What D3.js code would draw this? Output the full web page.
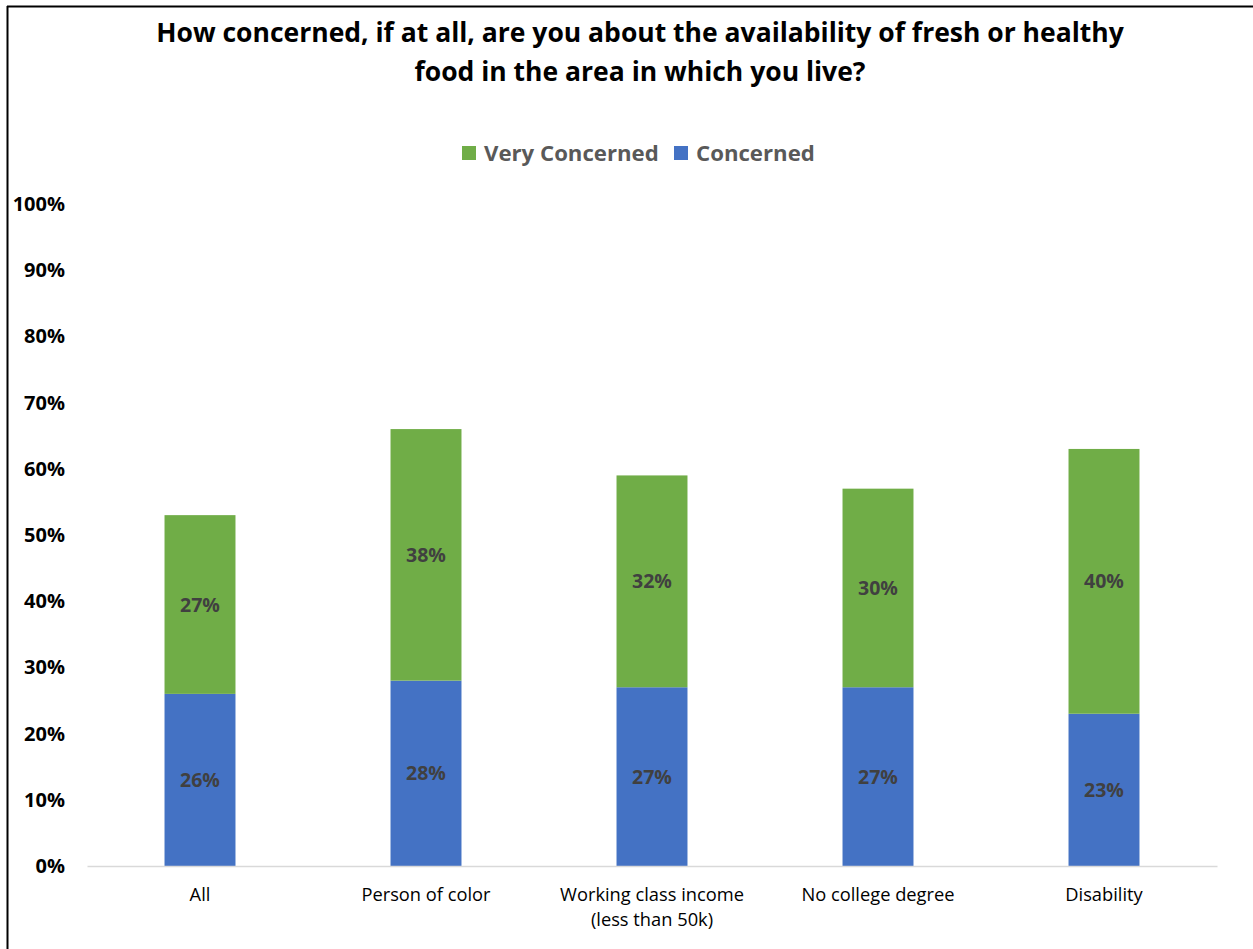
<!DOCTYPE html>
<html><head><meta charset="utf-8">
<script src="https://cdn.jsdelivr.net/npm/d3@7"></script>
<style>body{margin:0;background:#fff;} svg{display:block;}</style>
</head><body>
<script>
const categories = ["All", "Person of color", "Working class income\n(less than 50k)", "No college degree", "Disability"];
const concerned = [26, 28, 27, 27, 23];
const veryConcerned = [27, 38, 32, 30, 40];
const yTicks = [0, 10, 20, 30, 40, 50, 60, 70, 80, 90, 100];
const seriesNames = ["Very Concerned", "Concerned"];
const colors = {"Concerned": "#4472c4", "Very Concerned": "#70ad47"};
const titleLines = ["How concerned, if at all, are you about the availability of fresh or healthy", "food in the area in which you live?"];

const W = 1253, H = 949;
const font = "'Open Sans', sans-serif";
const svg = d3.select("body").append("svg").attr("width", W).attr("height", H);
svg.append("rect").attr("width", W).attr("height", H).attr("fill", "#fff");
svg.append("line").attr("x1", 7).attr("x2", W).attr("y1", 6.5).attr("y2", 6.5).attr("stroke", "#000").attr("stroke-width", 2);
svg.append("line").attr("x1", 7.5).attr("x2", 7.5).attr("y1", 6).attr("y2", H).attr("stroke", "#000").attr("stroke-width", 2);

svg.append("text").attr("x", 640).attr("y", 42).attr("text-anchor", "middle")
  .attr("font-family", font).attr("font-weight", "bold").attr("font-size", 26.5).attr("fill", "#000")
  .selectAll("tspan").data(titleLines).join("tspan")
  .attr("x", 640).attr("dy", (d, i) => i === 0 ? 0 : 39).text(d => d);

const x = d3.scaleBand().domain(categories).range([87, 1217]).paddingInner(0.686).paddingOuter(0.343);
const y = d3.scaleLinear().domain([0, 100]).range([866, 204]);

const yAxis = d3.axisLeft(y).tickValues(yTicks).tickFormat(d => d + "%").tickSize(0).tickPadding(0);
const ya = svg.append("g").attr("transform", "translate(65,0)").call(yAxis);
ya.select(".domain").remove();
ya.selectAll("text").attr("font-family", font).attr("font-weight", "bold").attr("font-size", 20).attr("fill", "#000");

const stacked = categories.map((c, i) => ({c, con: concerned[i], very: veryConcerned[i]}));
const g = svg.append("g");
g.selectAll(".con").data(stacked).join("rect")
  .attr("x", d => x(d.c)).attr("width", x.bandwidth())
  .attr("y", d => y(d.con)).attr("height", d => y(0) - y(d.con)).attr("fill", colors["Concerned"]);
g.selectAll(".very").data(stacked).join("rect")
  .attr("x", d => x(d.c)).attr("width", x.bandwidth())
  .attr("y", d => y(d.con + d.very)).attr("height", d => y(d.con) - y(d.con + d.very)).attr("fill", colors["Very Concerned"]);

const xAxis = d3.axisBottom(x).tickSize(0).tickFormat("");
const xa = svg.append("g").attr("transform", "translate(0,866)").call(xAxis);
xa.select(".domain").attr("stroke", "#d9d9d9").attr("stroke-width", 1.5);
stacked.forEach(d => {
  const lines = d.c.split("\n");
  const t = svg.append("text").attr("text-anchor", "middle").attr("font-family", font).attr("font-size", 18.3).attr("fill", "#000");
  lines.forEach((l, i) => t.append("tspan").attr("x", x(d.c) + x.bandwidth() / 2).attr("y", 901 + i * 25).text(l));
});

stacked.forEach(d => {
  const cx = x(d.c) + x.bandwidth() / 2;
  svg.append("text").attr("x", cx).attr("y", (y(0) + y(d.con)) / 2 + 7).attr("text-anchor", "middle")
    .attr("font-family", font).attr("font-weight", "bold").attr("font-size", 19.5).attr("fill", "#404040").text(d.con + "%");
  svg.append("text").attr("x", cx).attr("y", (y(d.con) + y(d.con + d.very)) / 2 + 7).attr("text-anchor", "middle")
    .attr("font-family", font).attr("font-weight", "bold").attr("font-size", 19.5).attr("fill", "#404040").text(d.very + "%");
});

const leg = svg.append("g");
const legX = [462, 674];
seriesNames.forEach((s, i) => {
  leg.append("rect").attr("x", legX[i]).attr("y", 146).attr("width", 14).attr("height", 14).attr("fill", colors[s]);
  leg.append("text").attr("x", legX[i] + 22).attr("y", 161).attr("font-family", font).attr("font-weight", "bold")
    .attr("font-size", 22.2).attr("fill", "#595959").text(s);
});
</script>
</body></html>
